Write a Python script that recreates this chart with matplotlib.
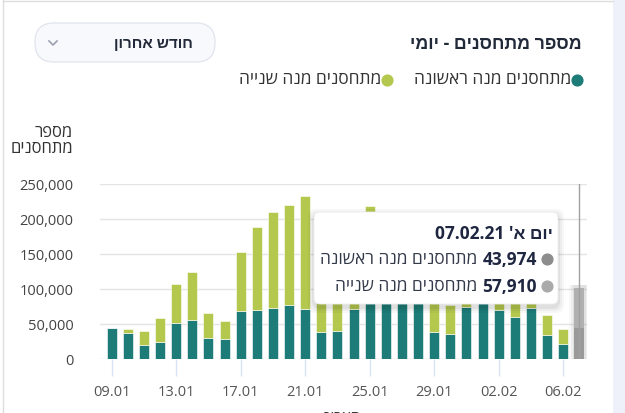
import matplotlib.pyplot as plt
from matplotlib.patches import FancyBboxPatch, Rectangle
import numpy as np

plt.rcParams['font.family'] = ['Open Sans', 'Liberation Sans', 'DejaVu Sans']

# daily vaccinated, 09.01 - 07.02 (hidden bars estimated)
days = ['09.01', '10.01', '11.01', '12.01', '13.01', '14.01', '15.01', '16.01',
        '17.01', '18.01', '19.01', '20.01', '21.01', '22.01', '23.01', '24.01',
        '25.01', '26.01', '27.01', '28.01', '29.01', '30.01', '31.01', '01.02',
        '02.02', '03.02', '04.02', '05.02', '06.02', '07.02']
first_dose = [43800, 37100, 20500, 23800, 51400, 55700, 30000, 29000, 68000, 69500,
              72900, 77600, 71400, 38600, 40500, 71400, 90000, 88000, 85000, 86000,
              38000, 35200, 74800, 82000, 70500, 60000, 72400, 34800, 21400, 43974]
second_dose = [0, 5800, 19000, 35200, 56200, 68100, 35700, 25800, 83900, 118500,
               136100, 141900, 161500, 91400, 59500, 118600, 128600, 112000, 110000, 124000,
               72000, 41800, 95200, 98000, 94500, 90000, 87600, 27600, 21000, 57910]
yticks = [0, 50000, 100000, 150000, 200000, 250000]

teal = '#1d7c78'
green = '#b4c84e'
W, H = 625, 414

def rtl(s):
    return s[::-1]

fig = plt.figure(figsize=(6.25, 4.14), dpi=100)

# overlay in pixel coords for the page furniture
bg = fig.add_axes([0, 0, 1, 1], zorder=0)
bg.set_xlim(0, W)
bg.set_ylim(H, 0)
bg.axis('off')
bg.add_patch(Rectangle((613, 0), 12, H, color='#eef1f9', lw=0))
bg.plot([3, 3], [0, H], color='#dddddd', lw=1)
bg.plot([3, 613], [2, 2], color='#dddddd', lw=1)

bg.text(582, 44, rtl('מספר מתחסנים - יומי'), ha='right', va='center',
        fontsize=12.8, fontweight='bold', color='#222a3a')
bg.add_patch(FancyBboxPatch((35, 24), 180, 39, boxstyle='round,pad=0,rounding_size=19',
                            fc='#f8f9fd', ec='#e3e6ef', lw=1))
bg.text(193, 44, rtl('חודש אחרון'), ha='right', va='center', fontsize=11,
        fontweight='bold', color='#222a3a')
bg.plot([49, 53, 57], [42, 46, 42], color='#9aa0b0', lw=1.2)

# legend
bg.scatter([577], [81], s=60, color=teal, zorder=3)
bg.text(571, 80, rtl('מתחסנים מנה ראשונה'), ha='right', va='center', fontsize=12.5, color='#333333')
bg.scatter([387], [81], s=60, color=green, zorder=3)
bg.text(381, 80, rtl('מתחסנים מנה שנייה'), ha='right', va='center', fontsize=12.5, color='#333333')

bg.text(73, 141, rtl('מספר') + '\n' + rtl('מתחסנים'), ha='right', va='center',
        multialignment='right', fontsize=12, color='#333333', linespacing=1.0)
bg.text(343, 419, rtl('תאריך'), ha='center', va='center', fontsize=11, color='#333333')

# chart
ax = fig.add_axes([100 / W, 1 - 360 / H, 487 / W, 175.3 / H], zorder=1)
ax.patch.set_alpha(0)
x = np.arange(len(days))
bw = 0.62
n = len(days) - 1

ax.bar(x[:n], first_dose[:n], bw, color=teal, edgecolor='white', lw=0.4, zorder=3)
ax.bar(x[:n], second_dose[:n], bw, bottom=first_dose[:n], color=green,
       edgecolor='white', lw=0.4, zorder=3)

# hovered bar
tot = first_dose[n] + second_dose[n]
for w, a in [(1.3, 0.05), (1.0, 0.08), (0.8, 0.1)]:
    ax.bar(x[n], tot + 6000, w, bottom=-3000, color='#777777', alpha=a, lw=0, zorder=2)
ax.bar(x[n], first_dose[n], bw, color='#9a9a9a', zorder=3)
ax.bar(x[n], second_dose[n], bw, bottom=first_dose[n], color='#b0b0b0', zorder=3)
ax.plot([x[n], x[n]], [0, 250000], color='#a0a0a0', lw=1, zorder=4)

ax.set_xlim(-0.73, 29.48)
ax.set_ylim(0, 250000)
ax.set_yticks(yticks)
ax.set_yticklabels(['{:,}'.format(v) for v in yticks])
ax.grid(axis='y', color='#e4e4e4', lw=1, zorder=0)
ax.set_xticks(x[::4])
ax.set_xticklabels(days[::4])
ax.tick_params(axis='y', length=0, pad=19, labelsize=10.5, labelcolor='#444444')
ax.tick_params(axis='x', length=12, width=1, color='#d8e4f4', pad=6,
               labelsize=10.5, labelcolor='#555555')
for s in ax.spines.values():
    s.set_visible(False)

# tooltip
tip = fig.add_axes([0, 0, 1, 1], zorder=5)
tip.set_xlim(0, W)
tip.set_ylim(H, 0)
tip.axis('off')
for d, a in [(6, 0.03), (4, 0.04), (2, 0.06)]:
    tip.add_patch(FancyBboxPatch((314 - d, 214 - d + 2), 244 + 2 * d, 92 + 2 * d,
                                 boxstyle='round,pad=0,rounding_size=8', fc='black',
                                 alpha=a, lw=0))
tip.add_patch(FancyBboxPatch((314, 213), 244, 92, boxstyle='round,pad=0,rounding_size=6',
                             fc='white', ec='#eeeeee', lw=0.6))
tip.text(553, 234, '07.02.21 ' + rtl("יום א'"), ha='right', va='center', fontsize=12.5,
         fontweight='bold', color='#1f2640')
rows = [(260, '#8c8c8c', first_dose[n], 'מתחסנים מנה ראשונה'),
        (287, '#aaaaaa', second_dose[n], 'מתחסנים מנה שנייה')]
for yy, c, v, lbl in rows:
    tip.scatter([547], [yy], s=60, color=c, zorder=3)
    t = tip.text(537, yy, '{:,}'.format(v), ha='right', va='center', fontsize=12.5,
                 fontweight='bold', color='#1f2640')
    tip.annotate(rtl(lbl), xy=(0, 0.5), xycoords=t, xytext=(-4, 0),
                 textcoords='offset points', ha='right', va='center',
                 fontsize=12.5, color='#333a4a')

fig.savefig('out.png', dpi=100)
